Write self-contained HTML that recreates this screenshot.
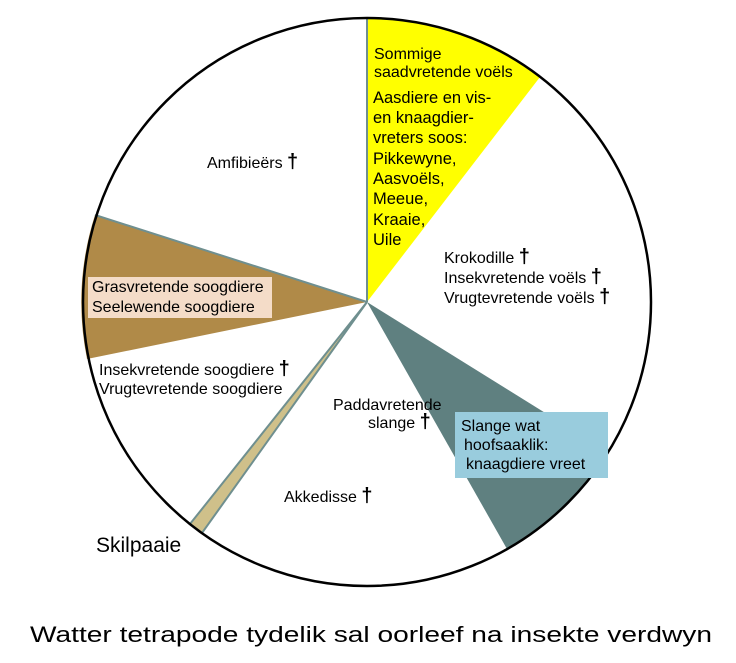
<!DOCTYPE html>
<html><head><meta charset="utf-8"><style>
html,body{margin:0;padding:0;background:#fff;}
svg{display:block;font-family:"Liberation Sans",Arial,sans-serif;}
</style></head><body>
<svg width="736" height="663" viewBox="0 0 736 663" xmlns="http://www.w3.org/2000/svg">
<circle cx="367" cy="302" r="284" fill="#fff"/>
<path d="M367,302 L367,18 A284,284 0 0 1 540,77 Z" fill="#ffff00"/>
<line x1="367" y1="18" x2="367" y2="302" stroke="#6f8f8f" stroke-width="2"/>
<path d="M367,302 L608,452 A284,284 0 0 1 507,549 Z" fill="#5f8080"/>
<path d="M367,302 L190,524 A284,284 0 0 0 202,533 Z" fill="#cfc08a" stroke="#6f8f8f" stroke-width="2"/>
<path d="M367,302 L87,359 A284,284 0 0 1 95,215 Z" fill="#b08a48"/>
<line x1="367" y1="302" x2="95" y2="215" stroke="#6f8f8f" stroke-width="2"/>
<circle cx="367" cy="302" r="284" fill="none" stroke="#000" stroke-width="2.5"/>
<rect x="88" y="277" width="184" height="41" fill="#f4dcc8"/>
<rect x="455" y="412" width="153" height="66" fill="#99ccdd"/>
<g font-size="16" fill="#000">
<text x="374" y="59">Sommige</text>
<text x="374" y="77">saadvretende voëls</text>
<g font-size="16.5">
<text x="373" y="103">Aasdiere en vis-</text>
<text x="373" y="123">en knaagdier-</text>
<text x="373" y="143">vreters soos:</text>
<text x="373" y="164">Pikkewyne,</text>
<text x="373" y="184">Aasvoëls,</text>
<text x="373" y="204">Meeue,</text>
<text x="373" y="225">Kraaie,</text>
<text x="373" y="245">Uile</text>
</g>
<text x="444" y="263">Krokodille <tspan font-size="20" font-weight="bold">†</tspan></text>
<text x="444" y="283">Insekvretende voëls <tspan font-size="20" font-weight="bold">†</tspan></text>
<text x="444" y="303">Vrugtevretende voëls <tspan font-size="20" font-weight="bold">†</tspan></text>
<text x="207" y="168">Amfibieërs <tspan font-size="20" font-weight="bold">†</tspan></text>
<text x="92" y="292">Grasvretende soogdiere</text>
<text x="92" y="312">Seelewende soogdiere</text>
<text x="99" y="375">Insekvretende soogdiere <tspan font-size="20" font-weight="bold">†</tspan></text>
<text x="99" y="394">Vrugtevretende soogdiere</text>
<text x="333" y="410">Paddavretende</text>
<text x="368" y="428">slange <tspan font-size="20" font-weight="bold">†</tspan></text>
<text x="461" y="431">Slange wat</text>
<text x="464" y="450">hoofsaaklik:</text>
<text x="466" y="469">knaagdiere vreet</text>
<text x="284" y="502">Akkedisse <tspan font-size="20" font-weight="bold">†</tspan></text>
</g>
<text x="96" y="552" font-size="21">Skilpaaie</text>
<text x="30" y="642" font-size="22" textLength="682" lengthAdjust="spacingAndGlyphs">Watter tetrapode tydelik sal oorleef na insekte verdwyn</text>
</svg>
</body></html>
